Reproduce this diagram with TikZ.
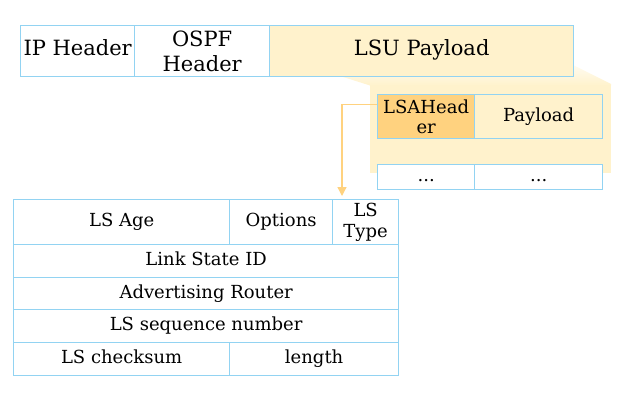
\documentclass[tikz,border=0pt]{standalone}
\usepackage{fontspec}
\setmainfont{DejaVu Serif}
\usetikzlibrary{arrows.meta}
\definecolor{bordc}{HTML}{92D3F2}
\definecolor{lsuc}{HTML}{FFF2CC}
\definecolor{orc}{HTML}{FFD27F}
\begin{document}
\begin{tikzpicture}[x=1pt,y=-1pt,
  cell/.style={draw=bordc, line width=1.3pt, inner sep=0pt, anchor=north west, align=center, font=\fontsize{18}{20.5}\selectfont},
  big/.style={font=\fontsize{21}{25}\selectfont},
  one/.style={text height=0.9em, text depth=0.02em},
  conn/.style={draw=orc, line width=1.3pt, -{Triangle[length=9pt,width=9pt]}}]
\useasboundingbox (0,0) rectangle (624,407);
% projection shade
\shade[top color=white!70!lsuc, bottom color=lsuc] (340,76) -- (370,85.5) -- (611,85.5) -- (611,84) -- (573,65) -- (573,76) -- cycle;
\fill[lsuc] (370,85) rectangle (611,173);
% top row
\node[cell,big,one,minimum width=114pt,minimum height=51pt] (ip) at (20,25) {IP Header};
\node[cell,big,minimum width=135pt,minimum height=51pt] (ospf) at (134,25) {OSPF\\Header};
\node[cell,big,one,fill=lsuc,minimum width=304pt,minimum height=51pt] (lsu) at (269,25) {LSU Payload};
% LSU contents
\node[cell,fill=orc,minimum width=97pt,minimum height=44pt] (lsah) at (377,94) {LSAHead\\er};
\node[cell,one,fill=lsuc,minimum width=128pt,minimum height=44pt] (pay) at (474,94) {Payload};
\node[cell,one,fill=white,minimum width=97pt,minimum height=25pt] (d1) at (377,164) {...};
\node[cell,one,fill=white,minimum width=128pt,minimum height=25pt] (d2) at (474,164) {...};
% LSA header table
\node[cell,one,minimum width=216pt,minimum height=45pt] (age) at (13,199) {LS Age};
\node[cell,one,minimum width=103pt,minimum height=45pt] (opt) at (229,199) {Options};
\node[cell,minimum width=66pt,minimum height=45pt] (typ) at (332,199) {LS\\Type};
\node[cell,one,minimum width=385pt,minimum height=33pt] (lsid) at (13,244) {Link State ID};
\node[cell,one,minimum width=385pt,minimum height=32pt] (adv) at (13,277) {Advertising Router};
\node[cell,one,minimum width=385pt,minimum height=33pt] (seq) at (13,309) {LS sequence number};
\node[cell,one,minimum width=216pt,minimum height=33pt] (chk) at (13,342) {LS checksum};
\node[cell,one,minimum width=169pt,minimum height=33pt] (len) at (229,342) {length};
% connector
\coordinate (tip) at (342,196);
\draw[conn] ([yshift=12pt]lsah.west) -| (tip);
\end{tikzpicture}
\end{document}
